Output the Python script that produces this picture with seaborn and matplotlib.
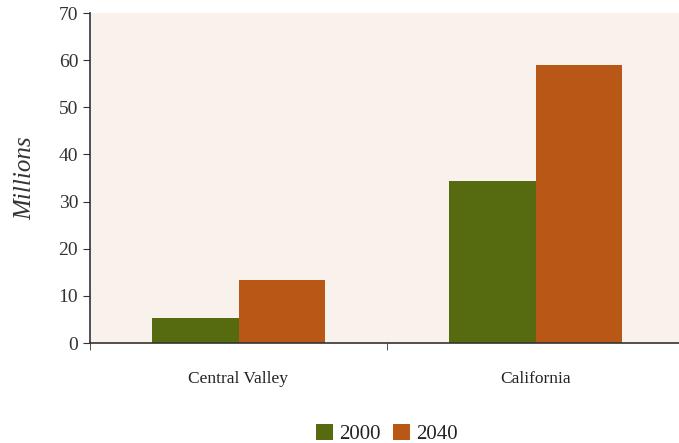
import matplotlib
matplotlib.use("Agg")
import matplotlib.pyplot as plt
import seaborn as sns
import pandas as pd
from matplotlib.ticker import FixedLocator

regions = ["Central Valley", "California"]
years = ["2000", "2040"]
values_2000 = [5.3, 34.4]
values_2040 = [13.4, 59.0]
colors = ["#566B10", "#B85716"]

df = pd.DataFrame({
    "region": regions * 2,
    "year": [years[0]] * 2 + [years[1]] * 2,
    "value": values_2000 + values_2040,
})

sns.set_style("ticks")
plt.rcParams["font.family"] = ["Liberation Serif", "DejaVu Serif"]

fig = plt.figure(figsize=(6.79, 4.43), dpi=100)
ax = fig.add_axes([90/679, 1-343/443, 594/679, 330/443])
ax.set_facecolor("#F9F1EC")

sns.barplot(data=df, x="region", y="value", hue="year", palette=colors,
            width=0.58, saturation=1, ax=ax, linewidth=0)

ax.set_xlim(-0.5, 1.5)
ax.set_ylim(0, 70)
ax.set_yticks(range(0, 71, 10))
ax.tick_params(axis="y", labelsize=14, length=5, color="#333333", labelcolor="#333333")
ax.tick_params(axis="x", which="major", length=0, labelsize=12.5, pad=20, labelcolor="#222222")
ax.xaxis.set_minor_locator(FixedLocator([-0.5, 0.5, 1.5]))
ax.tick_params(axis="x", which="minor", length=5, color="#333333")
ax.set_xlabel("")
ax.set_ylabel("Millions", fontsize=18, style="italic", color="#333333", labelpad=16)
for s in ["top", "right"]:
    ax.spines[s].set_visible(False)
for s in ["left", "bottom"]:
    ax.spines[s].set_color("#333333")
    ax.spines[s].set_linewidth(1.2)

leg = ax.legend(loc="upper center", bbox_to_anchor=(0.5, -0.2), ncol=2, frameon=False,
                fontsize=15, handlelength=0.8, handleheight=0.8, handletextpad=0.3,
                columnspacing=0.6, borderpad=0.2)
for t in leg.get_texts():
    t.set_color("#222222")

fig.savefig("out.png", dpi=100)
